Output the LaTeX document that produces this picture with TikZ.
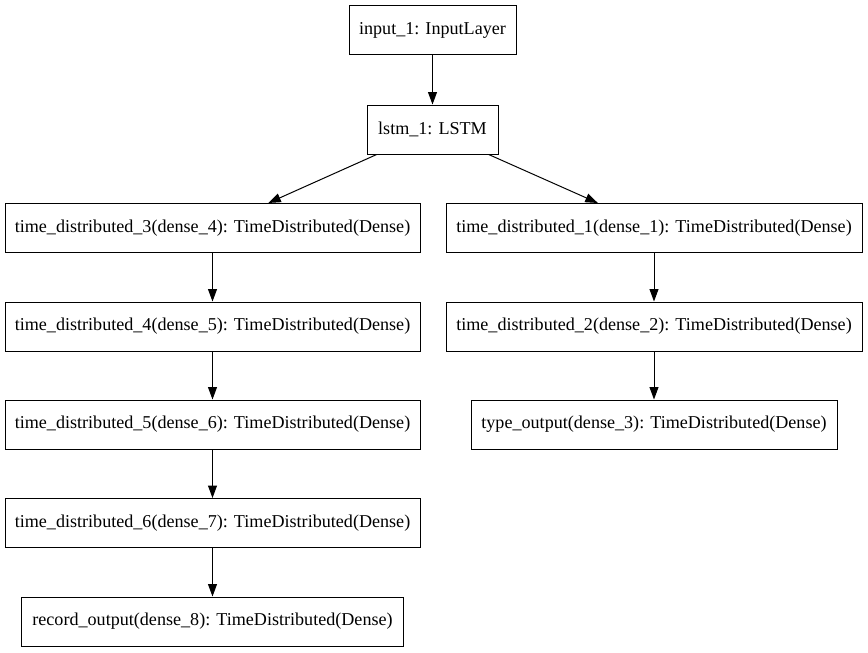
\documentclass[tikz,border=0pt]{standalone}
\usepackage{fontspec}
\setmainfont{Liberation Serif}
\usetikzlibrary{arrows.meta}
\tikzset{
  layer/.style={draw=black, line width=1pt, fill=white, inner sep=0pt, minimum height=49pt,
    font=\fontsize{18.1}{21}\selectfont},
  conn/.style={line width=1pt, -{Triangle[length=12.5pt,width=9pt]}}
}
\begin{document}
\begin{tikzpicture}
\useasboundingbox (0pt,0pt) rectangle (868pt,-653pt);
\node[layer, minimum width=167pt] (in) at (432.5pt,-30pt) {input\_1: InputLayer};
\node[layer, minimum width=131pt] (lstm) at (432.5pt,-129.5pt) {lstm\_1: LSTM};
\node[layer, minimum width=415pt] (td3) at (212.5pt,-228pt) {time\_distributed\_3(dense\_4): TimeDistributed(Dense)};
\node[layer, minimum width=415pt] (td4) at (212.5pt,-326.5pt) {time\_distributed\_4(dense\_5): TimeDistributed(Dense)};
\node[layer, minimum width=415pt] (td5) at (212.5pt,-424.5pt) {time\_distributed\_5(dense\_6): TimeDistributed(Dense)};
\node[layer, minimum width=415pt] (td6) at (212.5pt,-523pt) {time\_distributed\_6(dense\_7): TimeDistributed(Dense)};
\node[layer, minimum width=382pt] (rec) at (212.5pt,-621.5pt) {record\_output(dense\_8): TimeDistributed(Dense)};
\node[layer, minimum width=416pt] (td1) at (654pt,-228pt) {time\_distributed\_1(dense\_1): TimeDistributed(Dense)};
\node[layer, minimum width=416pt] (td2) at (654pt,-326.5pt) {time\_distributed\_2(dense\_2): TimeDistributed(Dense)};
\node[layer, minimum width=366pt] (type) at (654pt,-424.5pt) {type\_output(dense\_3): TimeDistributed(Dense)};
\draw[conn] (in) -- (lstm);
\draw[conn] (lstm) -- (td3);
\draw[conn] (lstm) -- (td1);
\draw[conn] (td3) -- (td4);
\draw[conn] (td4) -- (td5);
\draw[conn] (td5) -- (td6);
\draw[conn] (td6) -- (rec);
\draw[conn] (td1) -- (td2);
\draw[conn] (td2) -- (type);
\end{tikzpicture}
\end{document}
